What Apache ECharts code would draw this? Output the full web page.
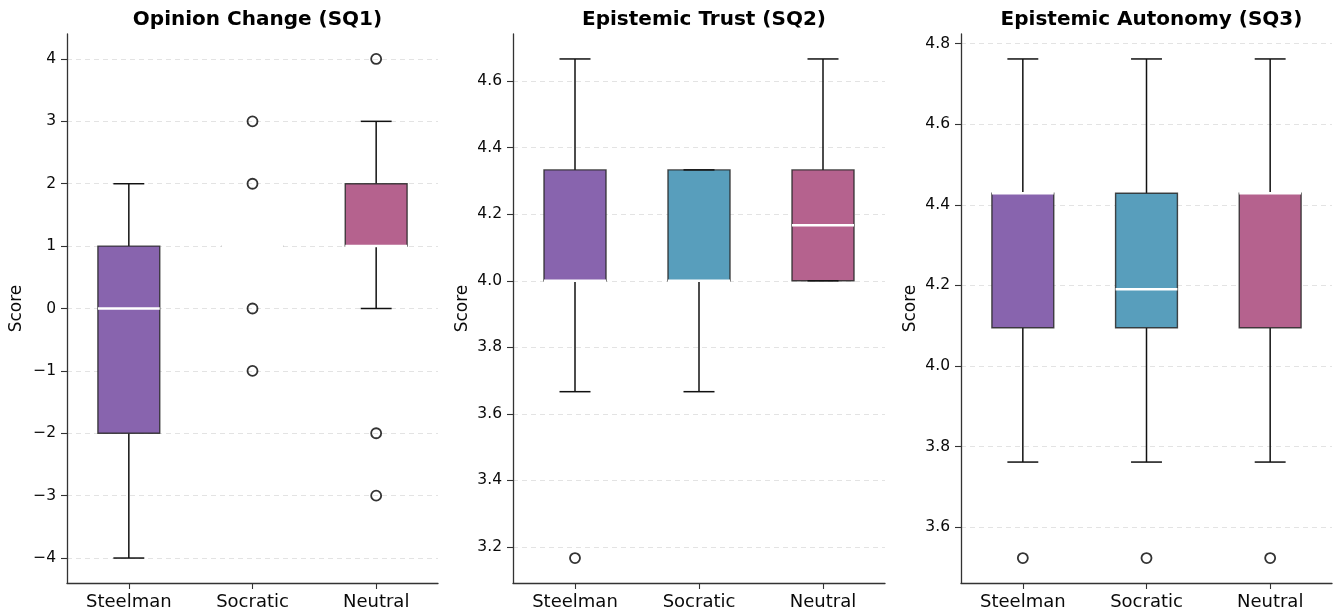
<!DOCTYPE html>
<html>
<head>
<meta charset="utf-8">
<script src="https://cdn.jsdelivr.net/npm/echarts@6/dist/echarts.min.js"></script>
<style>
  html, body { margin: 0; padding: 0; background: #fff; }
  #chart { width: 1336px; height: 616px; }
</style>
</head>
<body>
<div id="chart"></div>
<script>
// ---- Data ----
const categories = ['Steelman', 'Socratic', 'Neutral'];
const boxColors = ['#8864AE', '#589EBC', '#B5628E'];

const titles = ['Opinion Change (SQ1)', 'Epistemic Trust (SQ2)', 'Epistemic Autonomy (SQ3)'];

// [min whisker, Q1, median, Q3, max whisker]
const sq1Stats = [
  [-4, -2, 0, 1, 2],
  [1, 1, 1, 1, 1],
  [0, 1, 1, 2, 3]
];
const sq1Outliers = [
  [1, 3], [1, 2], [1, 0], [1, -1],
  [2, 4], [2, -2], [2, -3]
];
const sq1Ticks = [-4, -3, -2, -1, 0, 1, 2, 3, 4];

const sq2Stats = [
  [3.6667, 4.0, 4.0, 4.3333, 4.6667],
  [3.6667, 4.0, 4.0, 4.3333, 4.3333],
  [4.0, 4.0, 4.1667, 4.3333, 4.6667]
];
const sq2Outliers = [[0, 3.1667]];
const sq2Ticks = [3.2, 3.4, 3.6, 3.8, 4.0, 4.2, 4.4, 4.6];

const sq3Stats = [
  [3.7619, 4.0952, 4.4286, 4.4286, 4.7619],
  [3.7619, 4.0952, 4.1905, 4.4286, 4.7619],
  [3.7619, 4.0952, 4.4286, 4.4286, 4.7619]
];
const sq3Outliers = [[0, 3.5238], [1, 3.5238], [2, 3.5238]];
const sq3Ticks = [3.6, 3.8, 4.0, 4.2, 4.4, 4.6, 4.8];

// ---- Layout ----
const FONT = 'DejaVu Sans';
const grids = [
  { left: 67, width: 371, top: 34, height: 549 },
  { left: 513, width: 372, top: 34, height: 549 },
  { left: 961, width: 371, top: 34, height: 549 }
];

function yRange(stats, outliers) {
  let lo = Infinity, hi = -Infinity;
  stats.forEach(s => { lo = Math.min(lo, s[0]); hi = Math.max(hi, s[4]); });
  outliers.forEach(o => { lo = Math.min(lo, o[1]); hi = Math.max(hi, o[1]); });
  const pad = (hi - lo) * 0.05;
  return [lo - pad, hi + pad];
}

function fmtInt(v) { return v < 0 ? '\u2212' + Math.abs(v) : String(v); }
function fmtDec(v) { return v < 0 ? '\u2212' + Math.abs(v).toFixed(1) : v.toFixed(1); }

function renderBox(params, api) {
  const x = api.value(0);
  const band = api.size([1, 0])[0];
  const bw = band * 0.5;
  const cw = bw * 0.5;
  const cx = api.coord([x, api.value(3)])[0];
  const yMin = api.coord([x, api.value(1)])[1];
  const yQ1 = api.coord([x, api.value(2)])[1];
  const yMed = api.coord([x, api.value(3)])[1];
  const yQ3 = api.coord([x, api.value(4)])[1];
  const yMax = api.coord([x, api.value(5)])[1];
  const color = boxColors[params.dataIndex];
  const lineStyle = { stroke: '#111', lineWidth: 1.5 };
  return {
    type: 'group',
    children: [
      { type: 'line', shape: { x1: cx, y1: yQ1, x2: cx, y2: yMin }, style: lineStyle },
      { type: 'line', shape: { x1: cx, y1: yQ3, x2: cx, y2: yMax }, style: lineStyle },
      { type: 'rect', shape: { x: cx - bw / 2, y: yQ3, width: bw, height: yQ1 - yQ3 },
        style: { fill: color, stroke: 'rgba(40,40,40,0.85)', lineWidth: 1.4 } },
      { type: 'line', shape: { x1: cx - cw / 2, y1: yMin, x2: cx + cw / 2, y2: yMin }, style: lineStyle },
      { type: 'line', shape: { x1: cx - cw / 2, y1: yMax, x2: cx + cw / 2, y2: yMax }, style: lineStyle },
      { type: 'line', shape: { x1: cx - bw / 2, y1: yMed, x2: cx + bw / 2, y2: yMed },
        style: { stroke: '#ffffff', lineWidth: 2.5 } }
    ]
  };
}

const panels = [
  { stats: sq1Stats, outliers: sq1Outliers, ticks: sq1Ticks, fmt: fmtInt },
  { stats: sq2Stats, outliers: sq2Outliers, ticks: sq2Ticks, fmt: fmtDec },
  { stats: sq3Stats, outliers: sq3Outliers, ticks: sq3Ticks, fmt: fmtDec }
];

const option = {
  backgroundColor: '#ffffff',
  animation: false,
  title: [],
  grid: [],
  xAxis: [],
  yAxis: [],
  series: []
};

panels.forEach((p, i) => {
  const g = grids[i];
  const range = yRange(p.stats, p.outliers);
  option.title.push({
    text: titles[i],
    left: g.left + g.width / 2,
    top: 5,
    textAlign: 'center',
    textStyle: { fontFamily: FONT, fontSize: 20, fontWeight: 'bold', color: '#000' }
  });
  option.grid.push({ left: g.left, width: g.width, top: g.top, height: g.height, containLabel: false });
  option.xAxis.push({
    type: 'category',
    gridIndex: i,
    data: categories,
    boundaryGap: true,
    axisLine: { show: true, onZero: false, lineStyle: { color: '#333', width: 1.3 } },
    axisTick: { show: true, alignWithLabel: true, length: 6, lineStyle: { color: '#333', width: 1.1 } },
    axisLabel: { fontFamily: FONT, fontSize: 18, color: '#0a0a0a', margin: 10 },
    splitLine: { show: false }
  });
  option.yAxis.push({
    type: 'value',
    gridIndex: i,
    min: range[0],
    max: range[1],
    name: 'Score',
    nameLocation: 'middle',
    nameGap: 42,
    nameTextStyle: { fontFamily: FONT, fontSize: 17, color: '#0a0a0a' },
    axisLine: { show: true, onZero: false, lineStyle: { color: '#333', width: 1.3 } },
    axisTick: { show: true, length: 6, customValues: p.ticks, lineStyle: { color: '#333', width: 1.1 } },
    axisLabel: { fontFamily: FONT, fontSize: 15.5, color: '#0a0a0a', margin: 11,
      customValues: p.ticks, formatter: p.fmt },
    splitLine: { show: true, lineStyle: { color: '#e3e3e3', width: 1, type: [5, 4] } }
  });
  option.series.push({
    type: 'custom',
    xAxisIndex: i,
    yAxisIndex: i,
    renderItem: renderBox,
    encode: { x: 0, y: [1, 2, 3, 4, 5] },
    data: p.stats.map((s, k) => [k].concat(s)),
    z: 2
  });
  option.series.push({
    type: 'scatter',
    xAxisIndex: i,
    yAxisIndex: i,
    symbol: 'circle',
    symbolSize: 10,
    itemStyle: { color: 'rgba(255,255,255,0)', borderColor: '#000', borderWidth: 1.8 },
    data: p.outliers,
    z: 3
  });
});

const chart = echarts.init(document.getElementById('chart'), null, { renderer: 'canvas' });
chart.setOption(option);
</script>
</body>
</html>
